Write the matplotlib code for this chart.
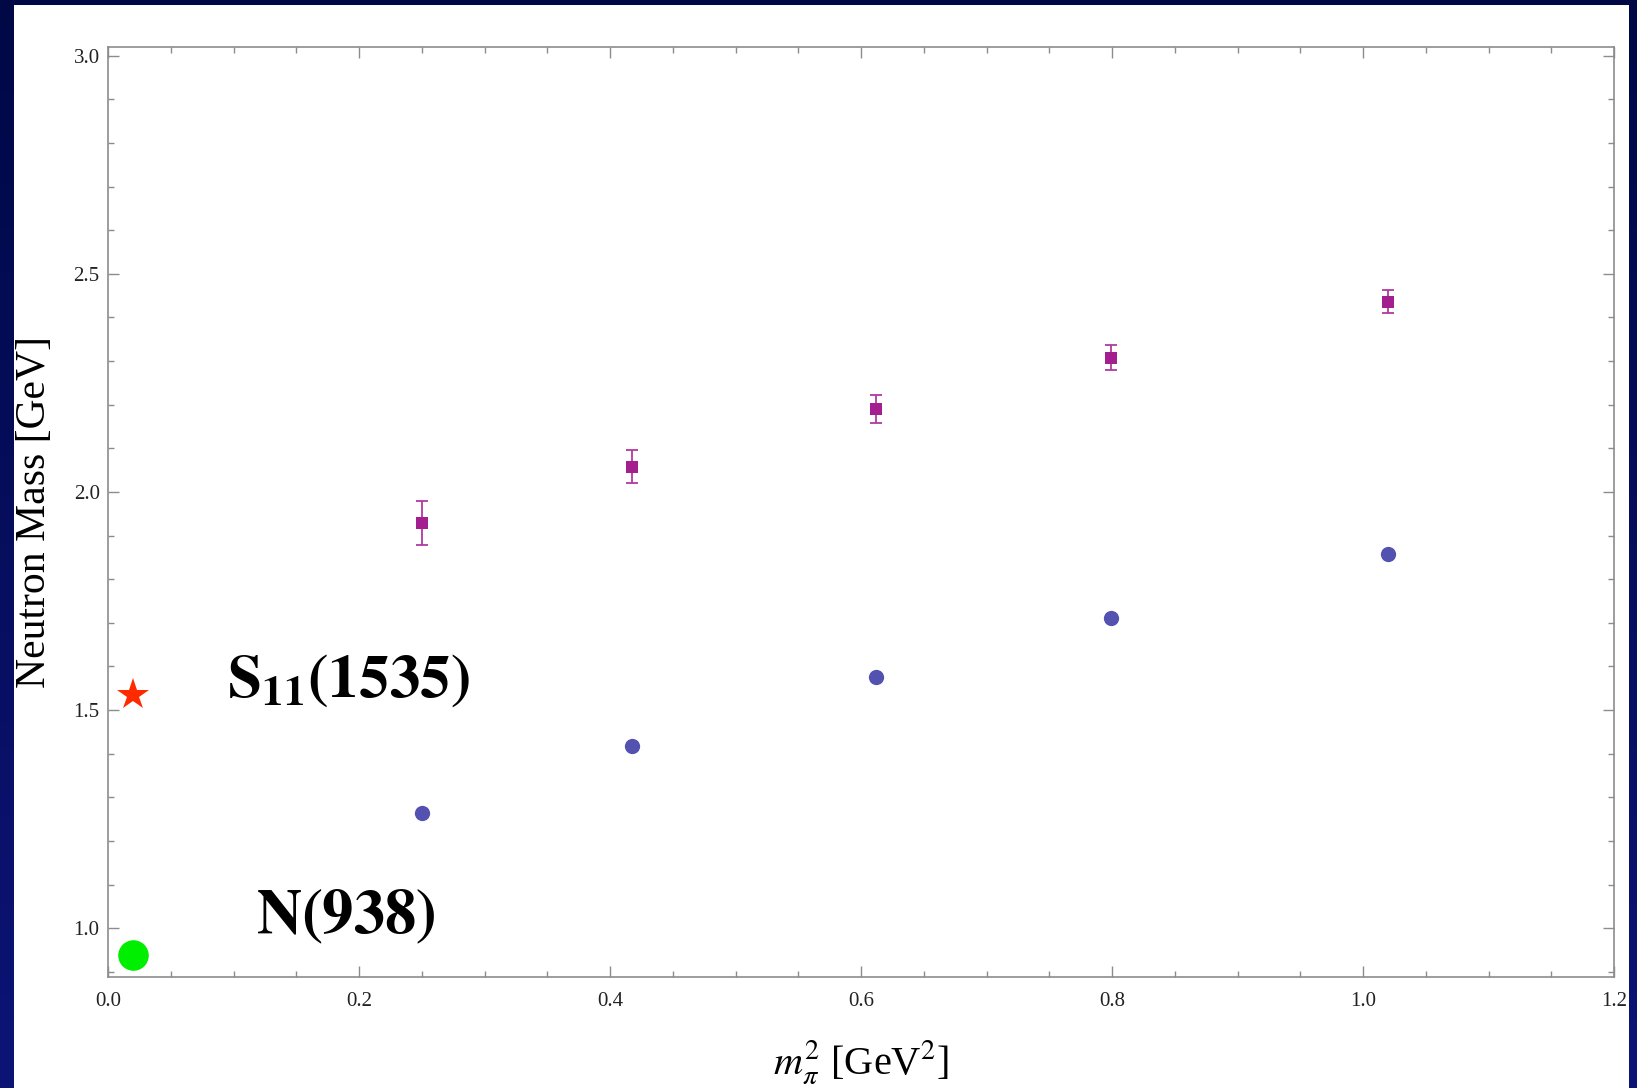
import numpy as np
import matplotlib
matplotlib.use("Agg")
import matplotlib.pyplot as plt
from matplotlib.patches import Rectangle
from matplotlib.ticker import MultipleLocator

plt.rcParams["font.family"] = ["Liberation Serif", "DejaVu Serif"]
plt.rcParams["mathtext.fontset"] = "stix"

# Lattice results versus pion mass squared
m_pi_sq = [0.250, 0.4175, 0.612, 0.799, 1.020]
ground_mass = [1.264, 1.417, 1.576, 1.711, 1.857]
excited_mass = [1.929, 2.058, 2.191, 2.308, 2.436]
excited_err = [0.050, 0.038, 0.032, 0.029, 0.026]

# Physical states
phys_x = 0.02
s11_mass = 1.535
nucleon_mass = 0.938
s11_label = r"$\mathbf{S_{11}(1535)}$"
nucleon_label = r"$\mathbf{N(938)}$"

xticks = [0.0, 0.2, 0.4, 0.6, 0.8, 1.0, 1.2]
yticks = [1.0, 1.5, 2.0, 2.5, 3.0]

W, H = 1637, 1088
fig = plt.figure(figsize=(W / 100, H / 100), dpi=100)

# Navy slide background with a white panel
bg = fig.add_axes([0, 0, 1, 1], zorder=0)
grad = np.linspace(0, 1, 256)[:, None]
top = np.array([0, 8, 70]) / 255
bottom = np.array([12, 20, 118]) / 255
img = top[None, None, :] * (1 - grad[..., None]) + bottom[None, None, :] * grad[..., None]
bg.imshow(img, aspect="auto", extent=[0, 1, 0, 1], origin="upper")
bg.add_patch(Rectangle((14 / W, 0), (1629 - 14) / W, (H - 5) / H,
                       facecolor="white", edgecolor="none"))
bg.set_xlim(0, 1)
bg.set_ylim(0, 1)
bg.axis("off")

ax = fig.add_axes([108 / W, (H - 977) / H, (1614 - 108) / W, (977 - 47) / H], zorder=1)
ax.set_facecolor("none")

ax.errorbar(m_pi_sq, excited_mass, yerr=excited_err, fmt="none",
            ecolor="#b03aa0", elinewidth=1.3, capsize=4.5, capthick=1.3, zorder=2)
ax.plot(m_pi_sq, excited_mass, "s", color="#a31f8f", markersize=8,
        markeredgewidth=0, zorder=3)
ax.plot(m_pi_sq, ground_mass, "o", color="#5352b0", markersize=11,
        markeredgewidth=0, zorder=3)
ax.plot([phys_x], [s11_mass], "*", color="#ff2a00", markersize=24,
        markeredgewidth=0, zorder=3)
ax.plot([phys_x], [nucleon_mass], "o", color="#00ee00", markersize=22,
        markeredgewidth=0, zorder=3)

ax.text(0.0948, s11_mass - 0.005, s11_label, fontsize=44, ha="left", va="baseline")
ax.text(0.118, nucleon_mass + 0.051, nucleon_label, fontsize=45, ha="left", va="baseline")

ax.set_xlim(0, 1.2)
ax.set_ylim(0.888, 3.02)
ax.set_xticks(xticks)
ax.set_yticks(yticks)
ax.xaxis.set_minor_locator(MultipleLocator(0.05))
ax.yaxis.set_minor_locator(MultipleLocator(0.1))
ax.set_xticklabels([f"{v:.1f}" for v in xticks])
ax.set_yticklabels([f"{v:.1f}" for v in yticks])

for s in ax.spines.values():
    s.set_color("#8c8c8c")
    s.set_linewidth(1.2)
ax.tick_params(which="both", direction="in", top=True, right=True,
               color="#8c8c8c", width=1.0, labelsize=15, labelcolor="#222222")
ax.tick_params(which="major", length=8)
ax.tick_params(which="minor", length=4.5)
ax.tick_params(axis="x", pad=11)
ax.tick_params(axis="y", pad=6)

ax.set_ylabel("Neutron Mass [GeV]", fontsize=30, labelpad=14)
ax.set_xlabel(r"$m_\pi^2$ [GeV$^2$]", fontsize=29, labelpad=20)

fig.savefig("out.png", dpi=100)
